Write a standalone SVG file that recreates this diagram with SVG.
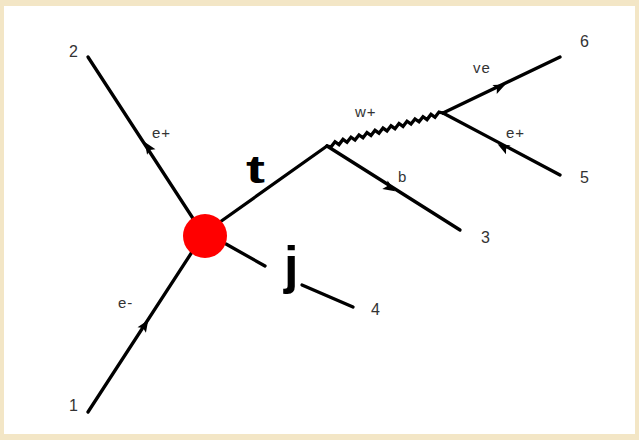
<svg xmlns="http://www.w3.org/2000/svg" width="639" height="440" viewBox="0 0 639 440">
<style>
.ln{stroke:#000;stroke-width:3.3;fill:none;stroke-linecap:round}
.lbl{font-family:"Liberation Sans",Arial,sans-serif;font-size:15px;fill:#333;letter-spacing:1px}
.num{font-family:"Liberation Sans",Arial,sans-serif;font-size:16px;fill:#333}
.big{font-family:"Liberation Sans",Arial,sans-serif;font-weight:bold;fill:#000}
</style>
<defs>
<path id="arr" d="M6,0 L-6,-5 L-3.5,0 L-6,5 Z" fill="#000"/>
</defs>
<rect x="0" y="0" width="639" height="440" fill="#f3e6c6"/>
<rect x="4" y="6" width="631" height="428" fill="#fff"/>
<g id="connectors">
<line class="ln" x1="88" y1="412" x2="192" y2="252"/>
<line class="ln" x1="88" y1="57" x2="194" y2="220"/>
<line class="ln" x1="220" y1="222" x2="327" y2="146"/>
<line class="ln" x1="226" y1="244" x2="265" y2="266"/>
<line class="ln" x1="302" y1="285" x2="353" y2="307"/>
<line class="ln" x1="327" y1="146" x2="460" y2="230"/>
<polyline class="ln" stroke-width="4" stroke-linecap="butt" stroke-linejoin="miter" points="327,146 331,146.9 335,141.7 339,144.6 343,139.4 347,142.3 351,137.2 355,140 359,134.9 363,137.8 367,132.6 371,135.5 375,130.3 379,133.2 383,128.1 387,130.9 391,125.8 395,128.7 399,123.5 403,126.4 407,121.2 411,124.1 415,119 419,121.8 423,116.7 427,119.6 431,114.4 435,117.3 439,112.1 443,113"/>
<line class="ln" x1="443" y1="113" x2="560" y2="57"/>
<line class="ln" x1="443" y1="113" x2="560" y2="175"/>
<use href="#arr" transform="translate(145,325) rotate(-57)"/>
<use href="#arr" transform="translate(148,147) rotate(-123)"/>
<use href="#arr" transform="translate(390,188) rotate(32)"/>
<use href="#arr" transform="translate(500,87) rotate(-25.6)"/>
<use href="#arr" transform="translate(503,147) rotate(-152)"/>
</g>
<g id="vertex">
<circle cx="205" cy="236" r="22" fill="#ff0000"/>
</g>
<g id="labels">
<text class="num" x="69" y="57">2</text>
<text class="num" x="69" y="411">1</text>
<text class="num" x="580" y="47">6</text>
<text class="num" x="580" y="183">5</text>
<text class="num" x="481" y="243">3</text>
<text class="num" x="371" y="315">4</text>
<text class="lbl" x="152" y="138">e+</text>
<text class="lbl" x="118" y="308">e-</text>
<text class="lbl" x="355" y="117">w+</text>
<text class="lbl" x="398" y="182">b</text>
<text class="lbl" x="473" y="73">ve</text>
<text class="lbl" x="506" y="138">e+</text>
<text class="big" font-size="38" transform="translate(246,183) scale(1.5,1)">t</text>
<text class="big" x="284" y="283" font-size="52">j</text>
</g>
</svg>
